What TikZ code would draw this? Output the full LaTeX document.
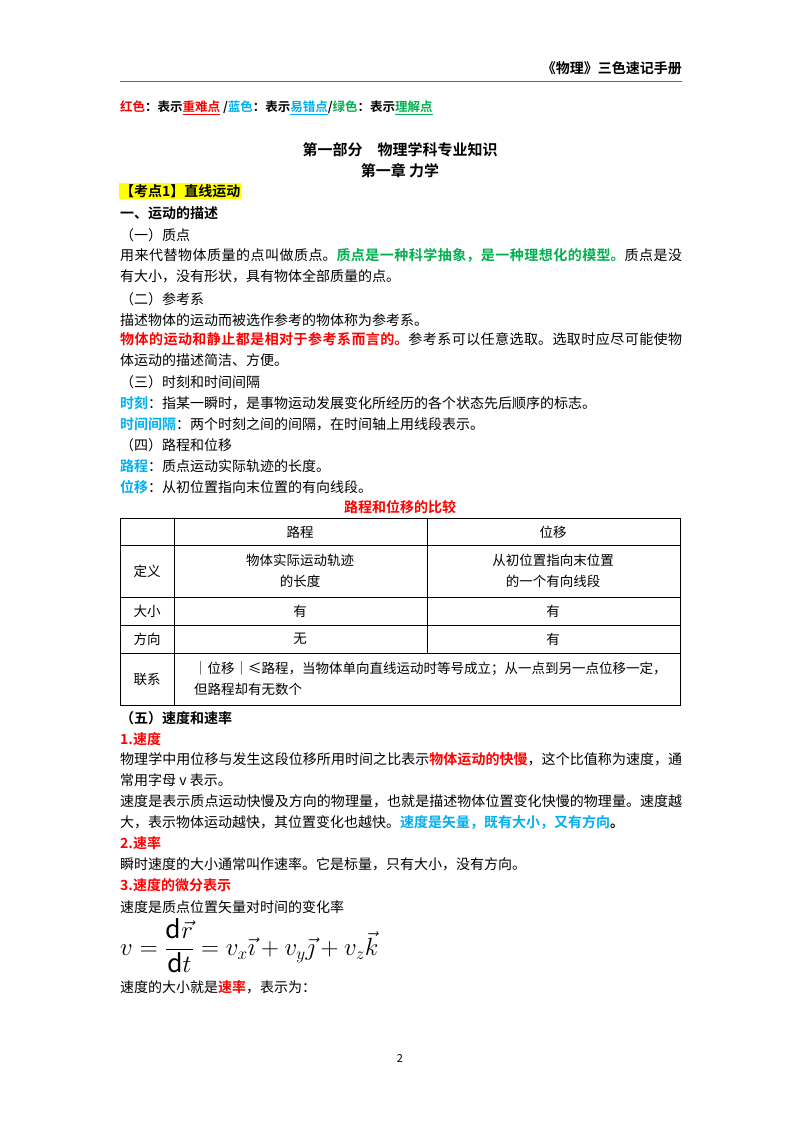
\documentclass[tikz,border=0pt]{standalone}
\usepackage{fontspec}
\setmainfont{Noto Sans CJK SC}[BoldFont={Noto Sans CJK SC Bold}]
\XeTeXlinebreaklocale "zh"
\XeTeXlinebreakskip=0pt plus 1pt
\definecolor{rd}{HTML}{FF0000}
\definecolor{bl}{HTML}{00B0F0}
\definecolor{gr}{HTML}{00B050}
\definecolor{hl}{HTML}{FFFF00}
\newcommand{\R}[1]{\textbf{\textcolor{rd}{#1}}}
\newcommand{\B}[1]{\textbf{\textcolor{bl}{#1}}}
\newcommand{\G}[1]{\textbf{\textcolor{gr}{#1}}}
\begin{document}
\begin{tikzpicture}[x=1pt,y=-1pt,
  txt/.style={anchor=west,inner sep=0,font=\fontsize{14}{21}\selectfont},
  par/.style={anchor=north west,inner sep=0,text width=562pt,align=justify,font=\fontsize{14}{21}\selectfont},
  cell/.style={inner sep=0,align=center,font=\fontsize{13.5}{21}\selectfont}]
\useasboundingbox[fill=white] (0,0) rectangle (800,1132);
\node[anchor=east,inner sep=0,font=\fontsize{14}{16}\selectfont\bfseries] (hdr) at (682,68) {《物理》三色速记手册};
\draw[gray!80!black,line width=0.8pt] (120,81) -- (682,81);
\node[txt,font=\fontsize{12.5}{14}\selectfont\bfseries] (leg) at (120,108) {\textcolor{rd}{红色}：表示\textcolor{rd}{\underline{重难点}} /\textcolor{bl}{蓝色}：表示\textcolor{bl}{\underline{易错点}}/\textcolor{gr}{绿色}：表示\textcolor{gr}{\underline{理解点}}};
\node[inner sep=0,font=\fontsize{15}{17}\selectfont\bfseries] (t1) at (400,150) {第一部分\quad 物理学科专业知识};
\node[inner sep=0,font=\fontsize{15}{17}\selectfont\bfseries] (t2) at (400,171) {第一章\ 力学};
\node[txt,fill=hl,inner sep=1pt,font=\fontsize{14}{16}\selectfont\bfseries] (kd) at (119,191) {【考点1】直线运动};
\node[txt,font=\fontsize{14}{16}\selectfont\bfseries] (s1) at (120,213) {一、运动的描述};
\node[txt] (a1) at (120,235) {（一）质点};
\node[par] (p1) at (120,248) {用来代替物体质量的点叫做质点。\G{质点是一种科学抽象，是一种理想化的模型。}质点是没\linebreak 有大小，没有形状，具有物体全部质量的点。};
\node[txt] (a2) at (120,299) {（二）参考系};
\node[txt] (p2) at (120,320) {描述物体的运动而被选作参考的物体称为参考系。};
\node[par] (p3) at (120,332) {\R{物体的运动和静止都是相对于参考系而言的。}参考系可以任意选取。选取时应尽可能使物\linebreak 体运动的描述简洁、方便。};
\node[txt] (a3) at (120,382) {（三）时刻和时间间隔};
\node[txt] (p4) at (120,403) {\B{时刻}：指某一瞬时，是事物运动发展变化所经历的各个状态先后顺序的标志。};
\node[txt] (p5) at (120,424) {\B{时间间隔}：两个时刻之间的间隔，在时间轴上用线段表示。};
\node[txt] (a4) at (120,445) {（四）路程和位移};
\node[txt] (p6) at (120,466) {\B{路程}：质点运动实际轨迹的长度。};
\node[txt] (p7) at (120,487) {\B{位移}：从初位置指向末位置的有向线段。};
\node[inner sep=0,font=\fontsize{14}{16}\selectfont] (tt) at (400,507) {\R{路程和位移的比较}};
% table
\draw[line width=0.7pt] (120,518) rectangle (680,705);
\foreach \y in {545,597,625,653} \draw[line width=0.6pt] (120,\y) -- (680,\y);
\draw[line width=0.6pt] (174,518) -- (174,705);
\draw[line width=0.6pt] (427,518) -- (427,653);
\node[cell] (h1) at (300,532) {路程};
\node[cell] (h2) at (553,532) {位移};
\node[cell] (r1) at (147,571) {定义};
\node[cell] (c11) at (300,571) {物体实际运动轨迹\\的长度};
\node[cell] (c12) at (553,571) {从初位置指向末位置\\的一个有向线段};
\node[cell] (r2) at (147,611) {大小};
\node[cell] (c21) at (300,611) {有};
\node[cell] (c22) at (553,611) {有};
\node[cell] (r3) at (147,639) {方向};
\node[cell] (c31) at (300,639) {无};
\node[cell] (c32) at (553,639) {有};
\node[cell] (r4) at (147,679) {联系};
\node[cell,anchor=west,align=left] (c4) at (194,679) {｜位移｜≤路程，当物体单向直线运动时等号成立；从一点到另一点位移一定，\\但路程却有无数个};
\node[txt,font=\fontsize{14}{16}\selectfont\bfseries] (a5) at (120,718) {（五）速度和速率};
\node[txt,font=\fontsize{14}{16}\selectfont\bfseries,text=rd] (n1) at (120,739) {1.速度};
\node[par] (p8) at (120,752) {物理学中用位移与发生这段位移所用时间之比表示\R{物体运动的快慢}，这个比值称为速度，通常用字母 v 表示。};
\node[par] (p9) at (120,794) {速度是表示质点运动快慢及方向的物理量，也就是描述物体位置变化快慢的物理量。速度越大，表示物体运动越快，其位置变化也越快。\B{速度是矢量，既有大小，又有方向}\textbf{。}};
\node[txt,font=\fontsize{14}{16}\selectfont\bfseries,text=rd] (n2) at (120,843) {2.速率};
\node[txt] (p10) at (120,864) {瞬时速度的大小通常叫作速率。它是标量，只有大小，没有方向。};
\node[txt,font=\fontsize{14}{16}\selectfont\bfseries,text=rd] (n3) at (120,885) {3.速度的微分表示};
\node[txt] (p11) at (120,907) {速度是质点位置矢量对时间的变化率};
\node[anchor=west,inner sep=0,font=\fontsize{25}{28}\selectfont] (eq) at (120,946) {$v=\displaystyle\frac{\mathrm{d}\vec{r}}{\mathrm{d}t}=v_x\vec{\imath}+v_y\vec{\jmath}+v_z\vec{k}$};
\node[txt] (p12) at (120,987) {速度的大小就是\R{速率}，表示为：};
\node[inner sep=0,font=\fontsize{11}{13}\selectfont] (pg) at (400,1058) {2};
\end{tikzpicture}
\end{document}
